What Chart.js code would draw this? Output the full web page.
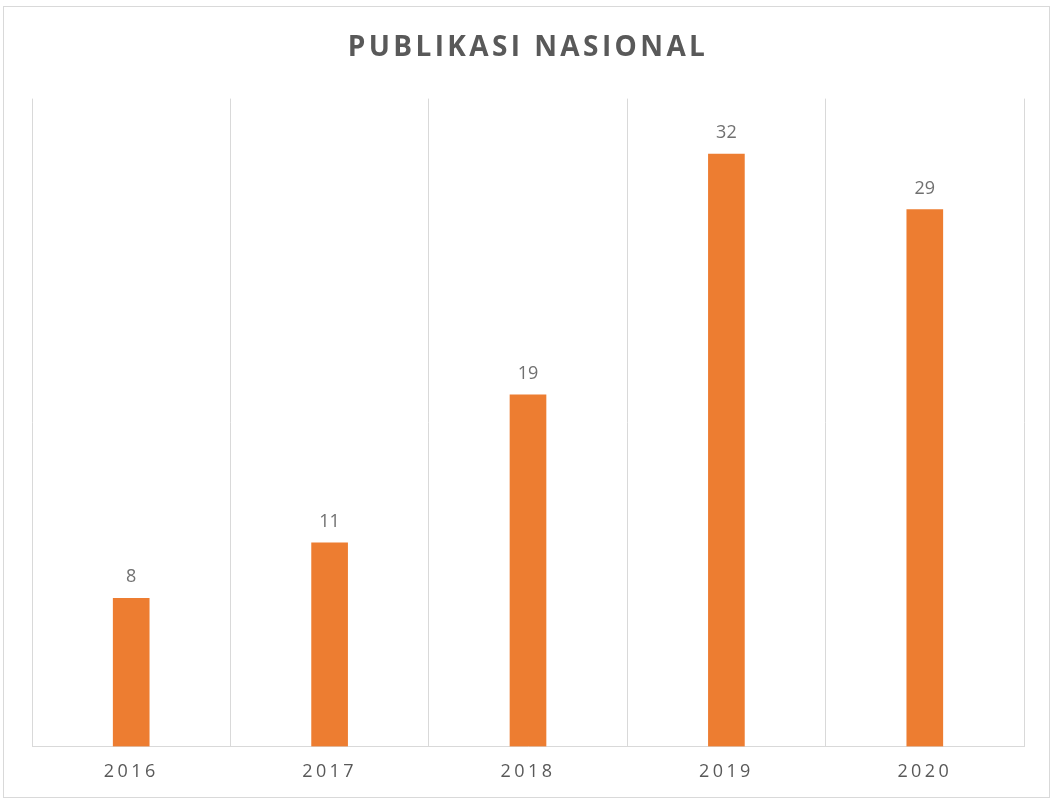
<!DOCTYPE html>
<html>
<head>
<meta charset="utf-8">
<script src="https://cdn.jsdelivr.net/npm/chart.js@4.4.0/dist/chart.umd.min.js"></script>
<style>
    html, body { margin: 0; padding: 0; background: #fff; }
    #wrap { width: 1052px; height: 799px; }
</style>
</head>
<body>
<div id="wrap">
    <canvas id="pubChart" width="1052" height="799"></canvas>
</div>
<script>
    // data
    const years = ['2016', '2017', '2018', '2019', '2020']
    const publikasi = [8, 11, 19, 32, 29]
    const judul = 'PUBLIKASI NASIONAL'

    const grey = '#595959'
    const lineGrey = '#d9d9d9'

    // outer frame + letter spacing for title/ticks
    const frameAndSpacing = {
        id: 'frameAndSpacing',
        beforeDraw(chart) {
            const ctx = chart.ctx
            ctx.save()
            ctx.strokeStyle = lineGrey
            ctx.lineWidth = 1
            ctx.strokeRect(3.5, 6.5, 1046, 791)
            ctx.restore()
            ctx.letterSpacing = '3.4px'
        }
    }

    // values over the bars
    const barLabels = {
        id: 'barLabels',
        afterDatasetsDraw(chart) {
            const ctx = chart.ctx
            const meta = chart.getDatasetMeta(0)
            ctx.save()
            ctx.letterSpacing = '0px'
            ctx.font = '18px "Open Sans"'
            ctx.fillStyle = '#707070'
            ctx.textAlign = 'center'
            ctx.textBaseline = 'bottom'
            meta.data.forEach((bar, i) => {
                ctx.fillText(publikasi[i], bar.x, bar.y - 12)
            })
            ctx.restore()
        }
    }

    new Chart(document.getElementById('pubChart'), {
        type: 'bar',
        data: {
            labels: years,
            datasets: [{
                data: publikasi,
                backgroundColor: '#ED7D31',
                barThickness: 36
            }]
        },
        options: {
            responsive: false,
            animation: false,
            layout: {
                padding: { top: 0, left: 32, right: 28, bottom: 1 }
            },
            plugins: {
                legend: { display: false },
                tooltip: { enabled: false },
                title: {
                    display: true,
                    text: judul,
                    color: grey,
                    font: { family: 'Open Sans', size: 28, weight: 'bold' },
                    padding: { top: 31, bottom: 34 }
                }
            },
            scales: {
                x: {
                    grid: {
                        offset: true,
                        color: lineGrey,
                        drawTicks: false
                    },
                    border: { color: lineGrey },
                    ticks: {
                        color: grey,
                        font: { family: 'Open Sans', size: 18 },
                        padding: 15
                    }
                },
                y: {
                    display: false,
                    min: 0,
                    max: 35
                }
            }
        },
        plugins: [frameAndSpacing, barLabels]
    })
</script>
</body>
</html>
